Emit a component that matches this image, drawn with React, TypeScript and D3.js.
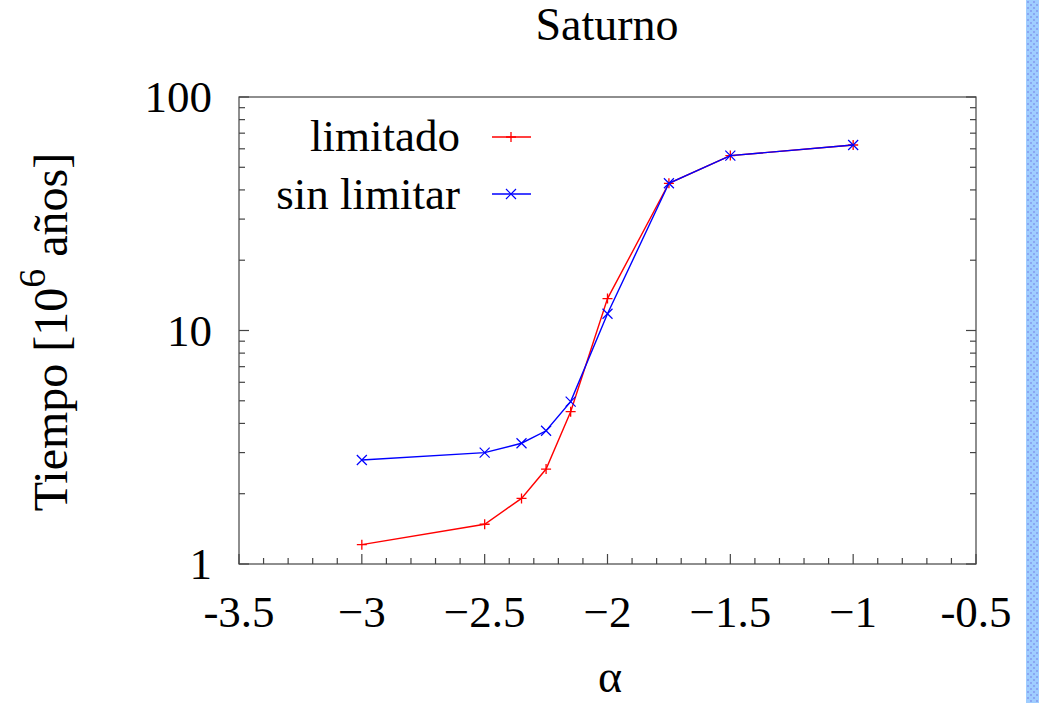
import React from "react";
import * as d3 from "d3";

// Saturno: tiempo vs alpha, escala logaritmica
const alphas = [-3, -2.5, -2.35, -2.25, -2.15, -2, -1.75, -1.5, -1];
const limitado = [1.21, 1.48, 1.91, 2.55, 4.49, 13.7, 42.7, 56.1, 62.3];
const sinLimitar = [2.79, 3.0, 3.29, 3.72, 4.96, 11.8, 42.7, 56.1, 62.3];

const xTicks = [-3.5, -3, -2.5, -2, -1.5, -1, -0.5];
const xTickLabels = ["-3.5", "\u22123", "\u22122.5", "\u22122", "\u22121.5", "\u22121", "-0.5"];
const yTicks = [1, 10, 100];
const yTickLabels = ["1", "10", "100"];

export default function App() {
  const width = 1039;
  const height = 703;
  const frame = { left: 239, right: 976, top: 97, bottom: 564 };
  const font = "'Liberation Serif', 'Times New Roman', serif";
  const fs = 45;

  const x = d3.scaleLinear().domain([-3.5, -0.5]).range([frame.left, frame.right]);
  const y = d3.scaleLog().domain([1, 100]).range([frame.bottom, frame.top]);

  const line = d3
    .line<number>()
    .x((_, i) => x(alphas[i]))
    .y((d) => y(d));

  const minorX = d3.range(-35, -4).map((v) => v / 10).filter((v) => !xTicks.some((t) => Math.abs(t - v) < 1e-6));
  const minorY: number[] = [];
  [1, 10].forEach((dec) => {
    for (let k = 2; k <= 9; k++) minorY.push(dec * k);
  });

  const tickColor = "#444";
  const plus = (cx: number, cy: number, c: string, key: string) => (
    <path key={key} d={`M${cx - 5},${cy}H${cx + 5}M${cx},${cy - 5}V${cy + 5}`} stroke={c} strokeWidth={1.3} />
  );
  const cross = (cx: number, cy: number, c: string, key: string) => (
    <path key={key} d={`M${cx - 5},${cy - 5}L${cx + 5},${cy + 5}M${cx - 5},${cy + 5}L${cx + 5},${cy - 5}`} stroke={c} strokeWidth={1.2} />
  );

  return (
    <div style={{ position: "fixed", left: 0, top: 0 }}>
      <svg width={width} height={height} style={{ display: "block", background: "#fff" }}>
        <defs>
          <pattern id="dots" width="6" height="6" patternUnits="userSpaceOnUse">
            <rect width="6" height="6" fill="#9fcdff" />
            <rect x="1" y="1" width="2" height="2" fill="#8aa6f2" />
            <rect x="4" y="4" width="2" height="2" fill="#8aa6f2" />
          </pattern>
        </defs>
        <rect x={1026} y={0} width={13} height={height} fill="url(#dots)" />

        <text x={607} y={40} textAnchor="middle" fontFamily={font} fontSize={46}>Saturno</text>

        {/* frame */}
        <rect x={frame.left} y={frame.top} width={frame.right - frame.left} height={frame.bottom - frame.top}
          fill="none" stroke={tickColor} strokeWidth={1.2} />

        {/* x ticks */}
        {xTicks.map((t, i) => (
          <g key={"xt" + i}>
            <line x1={x(t)} x2={x(t)} y1={frame.bottom} y2={frame.bottom - 10} stroke={tickColor} strokeWidth={1.2} />
            <text x={x(t)} y={627} textAnchor="middle" fontFamily={font} fontSize={fs}>{xTickLabels[i]}</text>
          </g>
        ))}
        {minorX.map((t, i) => (
          <line key={"xm" + i} x1={x(t)} x2={x(t)} y1={frame.bottom} y2={frame.bottom - 6} stroke={tickColor} strokeWidth={1.2} />
        ))}

        {/* y ticks */}
        {yTicks.map((t, i) => (
          <g key={"yt" + i}>
            <line x1={frame.left} x2={frame.left + 10} y1={y(t)} y2={y(t)} stroke={tickColor} strokeWidth={1.2} />
            <line x1={frame.right} x2={frame.right - 10} y1={y(t)} y2={y(t)} stroke={tickColor} strokeWidth={1.2} />
            <text x={212} y={y(t) + 15} textAnchor="end" fontFamily={font} fontSize={fs}>{yTickLabels[i]}</text>
          </g>
        ))}
        {minorY.map((t, i) => (
          <g key={"ym" + i}>
            <line x1={frame.left} x2={frame.left + 6} y1={y(t)} y2={y(t)} stroke={tickColor} strokeWidth={1.2} />
            <line x1={frame.right} x2={frame.right - 6} y1={y(t)} y2={y(t)} stroke={tickColor} strokeWidth={1.2} />
          </g>
        ))}

        {/* axis labels */}
        <text transform="translate(67,332) rotate(-90)" textAnchor="middle" fontFamily={font} fontSize={48}>
          Tiempo [10<tspan dy={-22} fontSize={38}>6</tspan><tspan dy={22}> años]</tspan>
        </text>
        <text x={610} y={692} textAnchor="middle" fontFamily={font} fontSize={46}>α</text>

        {/* series */}
        <path d={line(limitado) ?? ""} fill="none" stroke="#ff0000" strokeWidth={1.4} />
        {limitado.map((v, i) => plus(x(alphas[i]), y(v), "#ff0000", "p" + i))}
        <path d={line(sinLimitar) ?? ""} fill="none" stroke="#0000ff" strokeWidth={1.4} />
        {sinLimitar.map((v, i) => cross(x(alphas[i]), y(v), "#0000ff", "c" + i))}

        {/* legend */}
        <text x={460} y={151} textAnchor="end" fontFamily={font} fontSize={fs}>limitado</text>
        <line x1={492} x2={531} y1={137} y2={137} stroke="#ff0000" strokeWidth={1.4} />
        {plus(511, 137, "#ff0000", "lp")}
        <text x={460} y={209} textAnchor="end" fontFamily={font} fontSize={fs}>sin limitar</text>
        <line x1={492} x2={531} y1={194} y2={194} stroke="#0000ff" strokeWidth={1.4} />
        {cross(511, 194, "#0000ff", "lc")}
      </svg>
    </div>
  );
}
